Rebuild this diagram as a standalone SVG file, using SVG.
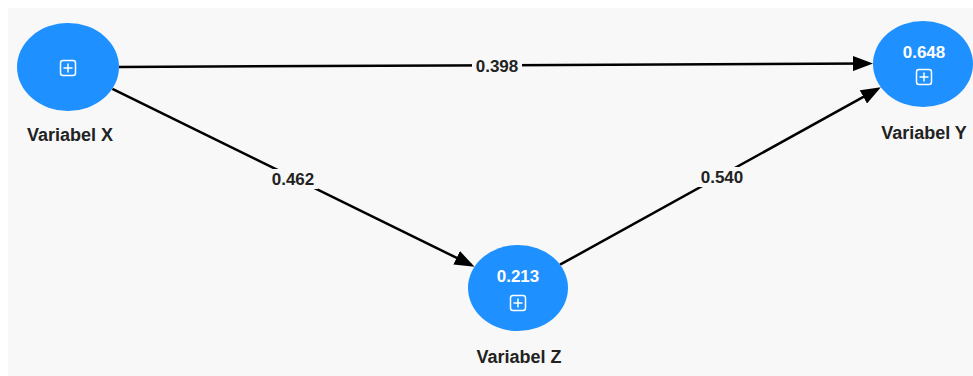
<svg xmlns="http://www.w3.org/2000/svg" width="973" height="376" viewBox="0 0 973 376">
<defs>
<style>
.node{fill:#1E90FF}
.val{font-family:"Liberation Sans",Arial,sans-serif;font-weight:bold;font-size:17px;fill:#ffffff;text-anchor:middle}
.name{font-family:"Liberation Sans",Arial,sans-serif;font-weight:bold;font-size:18px;fill:#222222;text-anchor:middle}
.elab{font-family:"Liberation Sans",Arial,sans-serif;font-weight:bold;font-size:17px;fill:#222222;text-anchor:middle}
.edge{stroke:#000000;stroke-width:2.5;fill:none}
.lbg{fill:#f8f8f8}
.icon{fill:none;stroke:#ffffff;stroke-width:1.5}
</style>
<marker id="arr" markerUnits="userSpaceOnUse" markerWidth="20" markerHeight="15" refX="16" refY="7.5" orient="auto">
<path d="M0,0 L20,7.5 L0,15 z" fill="#000000"/>
</marker>
<g id="plus">
<rect x="-7.5" y="-7.5" width="15" height="15" rx="2.5" class="icon"/>
<path d="M-4.5,0 H4.5 M0,-4.5 V4.5" class="icon"/>
</g>
</defs>
<rect x="0" y="0" width="973" height="376" fill="#ffffff"/>
<rect x="8" y="8" width="965" height="368" fill="#f8f8f8"/>
<g id="connectors">
<g id="e-xy">
<line x1="119" y1="67" x2="869" y2="63.5" class="edge" marker-end="url(#arr)"/>
<rect x="472" y="56" width="50" height="20" class="lbg"/>
<text x="497" y="72" class="elab">0.398</text>
</g>
<g id="e-xz">
<line x1="112.4" y1="88.8" x2="471" y2="264.9" class="edge" marker-end="url(#arr)"/>
<rect x="268" y="169" width="50" height="20" class="lbg"/>
<text x="293" y="185" class="elab">0.462</text>
</g>
<g id="e-zy">
<line x1="560" y1="264.7" x2="877.4" y2="89.2" class="edge" marker-end="url(#arr)"/>
<rect x="697" y="167" width="50" height="20" class="lbg"/>
<text x="722" y="183" class="elab">0.540</text>
</g>
</g>
<g id="node-x">
<ellipse cx="68" cy="67" rx="51" ry="44" class="node"/>
<use href="#plus" x="68" y="68"/>
<text x="70" y="141" class="name">Variabel X</text>
</g>
<g id="node-y">
<ellipse cx="923" cy="64" rx="50" ry="43" class="node"/>
<text x="924" y="58" class="val">0.648</text>
<use href="#plus" x="924" y="77"/>
<text x="924" y="139" class="name">Variabel Y</text>
</g>
<g id="node-z">
<ellipse cx="518" cy="288" rx="50" ry="43" class="node"/>
<text x="518" y="282" class="val">0.213</text>
<use href="#plus" x="518" y="303"/>
<text x="519" y="363" class="name">Variabel Z</text>
</g>
</svg>
